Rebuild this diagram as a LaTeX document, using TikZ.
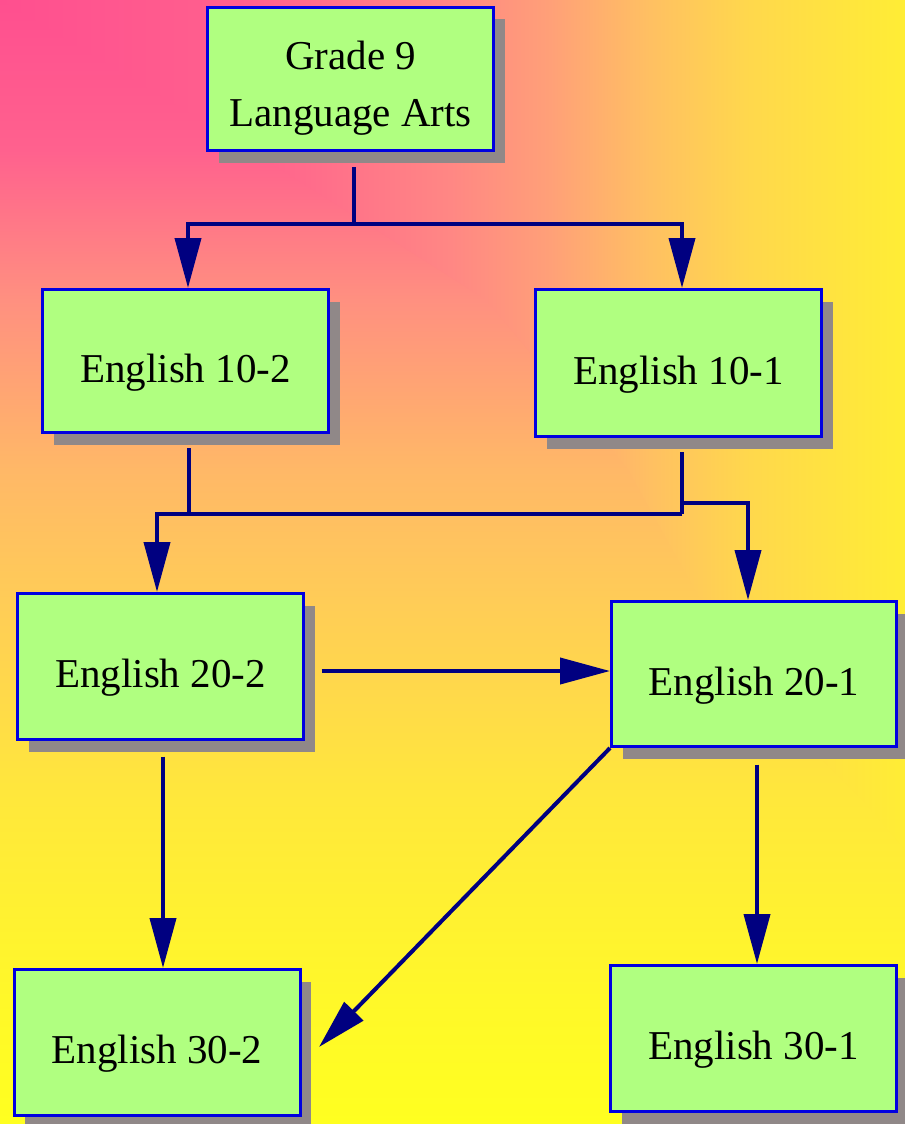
\documentclass[tikz,border=0pt]{standalone}
\usepackage{fontspec}
\setmainfont{Liberation Serif}
\newfontfamily\boxfont{Liberation Serif}
\usetikzlibrary{arrows.meta,shadows,calc}
\definecolor{boxfill}{HTML}{B0FF80}
\definecolor{boxline}{HTML}{0000E0}
\definecolor{shadowgray}{HTML}{908888}
\definecolor{navyline}{HTML}{000080}
% horizontal (top row) profile
\definecolor{hA}{RGB}{255,79,143}
\definecolor{hB}{RGB}{255,97,142}
\definecolor{hC}{RGB}{255,135,132}
\definecolor{hD}{RGB}{255,160,120}
\definecolor{hE}{RGB}{255,192,98}
\definecolor{hF}{RGB}{255,216,76}
\definecolor{hG}{RGB}{255,237,53}
% vertical (left column) profile, bottom to top
\definecolor{vA}{RGB}{255,255,32}
\definecolor{vB}{RGB}{255,248,41}
\definecolor{vC}{RGB}{255,232,59}
\definecolor{vD}{RGB}{255,204,87}
\definecolor{vE}{RGB}{255,184,103}
\definecolor{vF}{RGB}{255,144,128}
\definecolor{vG}{RGB}{255,97,142}
\definecolor{vH}{RGB}{255,79,143}
\pgfdeclarehorizontalshading{topshade}{100bp}{color(0bp)=(hA); color(25bp)=(hA); color(38.81bp)=(hB); color(49.86bp)=(hC); color(55.39bp)=(hD); color(60.91bp)=(hE); color(66.44bp)=(hF); color(75bp)=(hG); color(100bp)=(hG)}
\pgfdeclareverticalshading{leftshade}{100bp}{color(0bp)=(vA); color(25bp)=(vA); color(30.52bp)=(vB); color(39.41bp)=(vC); color(48.31bp)=(vD); color(54.09bp)=(vE); color(61.65bp)=(vF); color(68.33bp)=(vG); color(75bp)=(vH); color(100bp)=(vH)}
\newcommand{\btext}[2]{\raisebox{#1}[0pt][0pt]{#2}}
\begin{document}
\begin{tikzpicture}[x=0.75pt,y=-0.75pt,
  box/.style={draw=boxline, line width=2.25pt, fill=boxfill, inner sep=0pt,
    minimum width=214.5pt, minimum height=107.25pt,
    drop shadow={shadow xshift=8.5pt, shadow yshift=-9pt, fill=shadowgray, opacity=1},
    font=\boxfont\fontsize{30.75}{42.75}\selectfont},
  conn/.style={draw=navyline, line width=3pt},
  arr/.style={conn, -{Triangle[length=37.5pt,width=19.5pt]}}]
\useasboundingbox (0,0) rectangle (905,1124);
\shade[shading=topshade] (0,0) rectangle (905,1124);
\shade[shading=leftshade] (0,0) -- (250,150) -- (486,300) -- (628,470) -- (700,600) -- (762,700) -- (862,800) -- (905,850) -- (905,1124) -- (0,1124) -- cycle;

\node[box] (g9) at (350.5,79) {\btext{6.75pt}{\begin{tabular}[t]{@{}c@{}}Grade 9\\Language Arts\end{tabular}}};
\node[box] (e102) at (185.5,361) {\btext{-16pt}{English 10-2}};
\node[box, minimum height=110.25pt] (e101) at (678.5,363) {\btext{-16pt}{English 10-1}};
\node[box, minimum height=109.5pt] (e202) at (160.5,666.5) {\btext{-16pt}{English 20-2}};
\node[box, minimum height=108.75pt, minimum width=213.75pt] (e201) at (754,674) {\btext{-16pt}{English 20-1}};
\node[box, minimum height=109.5pt] (e302) at (157,1042.5) {\btext{-16pt}{English 30-2}};
\node[box, minimum height=109.5pt] (e301) at (753.5,1038.5) {\btext{-16pt}{English 30-1}};

\coordinate (ja) at (354,224);
\coordinate (jb) at (682,514);
\coordinate (jc) at (682,503);

\draw[conn] ($(g9.south)+(3.5,15)$) -- (ja);
\draw[arr] (ja) -| ($(e102.north)+(2.5,0)$);
\draw[arr] (ja) -| ($(e101.north)+(3.5,0)$);

\draw[conn] ($(e102.south)+(3.5,14)$) |- (jb);
\draw[conn] ($(e101.south)+(3.5,14)$) -- (jb);
\draw[arr] (jb) -| ($(e202.north)+(-3.5,0)$);
\draw[arr] (jc) -| ($(e201.north)+(-6,0)$);

\draw[arr] ($(e202.east)+(16.5,4.5)$) -- ($(e201.west)+(0,-3)$);
\draw[arr] ($(e202.south)+(2.5,15.5)$) -- ($(e302.north)+(6,0)$);
\draw[arr] (e201.south west) -- ($(e302.east)+(17.5,4.5)$);
\draw[arr] ($(e201.south)+(3,16.5)$) -- ($(e301.north)+(3.5,0)$);
\end{tikzpicture}
\end{document}
